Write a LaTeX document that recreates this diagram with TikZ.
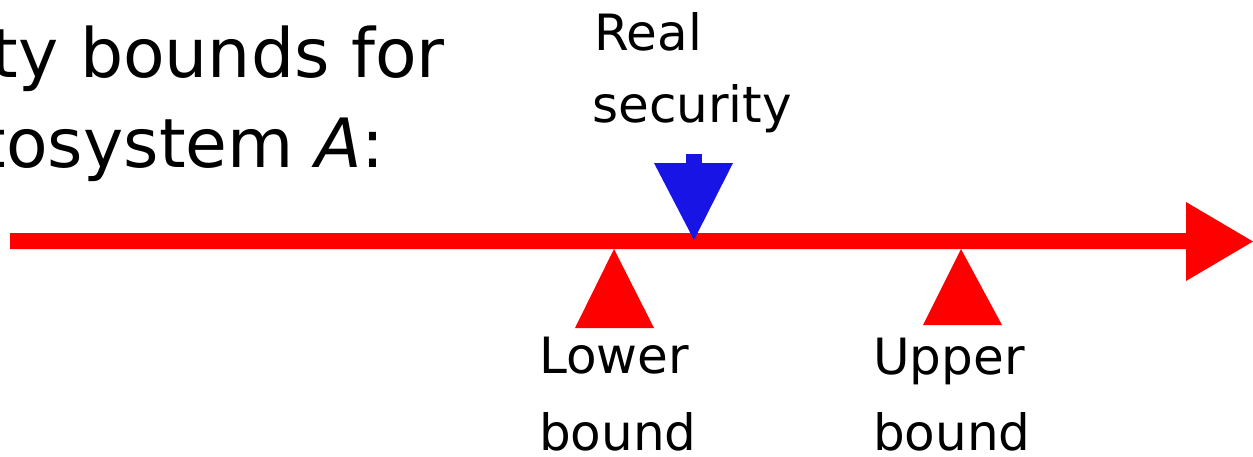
\documentclass[tikz,border=0pt]{standalone}
\usepackage{fontspec}
\setmainfont{DejaVu Sans}
\definecolor{arrowred}{RGB}{255,0,0}
\definecolor{markblue}{RGB}{24,20,230}
\begin{document}
\begin{tikzpicture}[x=1pt,y=-1pt,
  heading/.style={inner sep=0pt,font=\fontsize{68}{80}\selectfont,anchor=base east},
  label/.style={inner sep=0pt,font=\fontsize{50}{60}\selectfont,anchor=base west},
  redfill/.style={fill=arrowred,draw=none},
  bluefill/.style={fill=markblue,draw=none}]
\useasboundingbox (0,0) rectangle (1253,456);
\clip (0,0) rectangle (1253,456);
% heading (cut off at left in the reference)
\node[heading] (h1) at (445,77) {ty bounds for};
\node[heading] (h2) at (385,167) {tosystem \textit{A}:};
% main axis arrow
\path[redfill] (10,233) -- (1186,233) -- (1186,202) -- (1253,241.5) -- (1186,281) -- (1186,249) -- (10,249) -- cycle;
% real security marker
\path[bluefill] (686,154) rectangle (702,164);
\path[bluefill] (654,163) -- (733,163) -- (694,240) -- cycle;
% lower and upper bound markers
\path[redfill] (614,249) -- (654,328) -- (575,328) -- cycle;
\path[redfill] (961,249) -- (1002,325) -- (923,325) -- cycle;
% labels
\node[label] (real1) at (594,50) {Real};
\node[label] (real2) at (592,122) {security};
\node[label] (low1) at (539,373) {Lower};
\node[label] (low2) at (539,450) {bound};
\node[label] (up1) at (873,374) {Upper};
\node[label] (up2) at (873,450) {bound};
\end{tikzpicture}
\end{document}
